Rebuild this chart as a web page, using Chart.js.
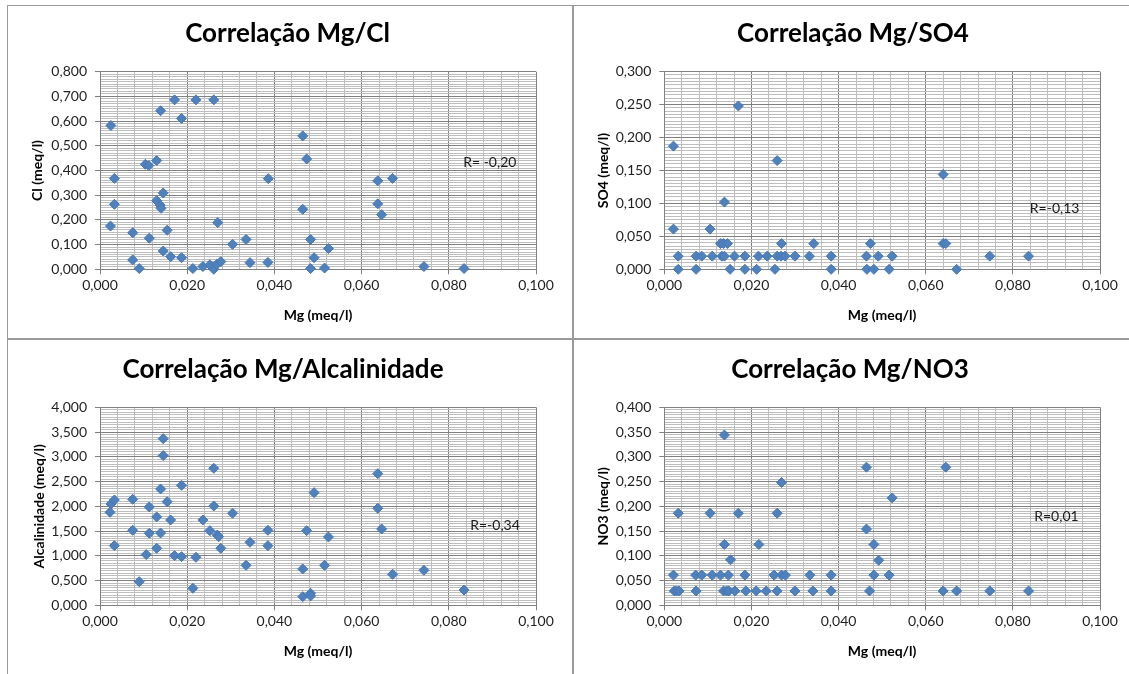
<!DOCTYPE html>
<html>
<head>
<meta charset="utf-8">
<title>Correlações Mg</title>
<script src="https://cdn.jsdelivr.net/npm/chart.js@4.4.1/dist/chart.umd.min.js"></script>
<style>
  html, body { margin: 0; padding: 0; background: #fff; }
  #sheet { position: relative; width: 1129px; height: 674px; overflow: hidden; background: #fff; }
  #sheet canvas { position: absolute; display: block; }
  .rule { position: absolute; background: #9a9a9a; }
</style>
</head>
<body>
<div id="sheet">
  <canvas id="cCl" width="565" height="334" style="left:8px;top:5px"></canvas>
  <canvas id="cSo4" width="555" height="334" style="left:574px;top:5px"></canvas>
  <canvas id="cAlk" width="565" height="334" style="left:8px;top:340px"></canvas>
  <canvas id="cNo3" width="555" height="334" style="left:574px;top:340px"></canvas>
  <div class="rule" style="left:8px;top:5px;width:1121px;height:1px"></div>
  <div class="rule" style="left:7px;top:5px;width:1px;height:669px"></div>
  <div class="rule" style="left:572px;top:5px;width:2px;height:669px"></div>
  <div class="rule" style="left:8px;top:338px;width:1121px;height:2px"></div>
</div>
<script>
// Magnésio (x) e concentrações (y) por amostra, em meq/l
const mgCl = [0.0024,0.0025,0.0033,0.0033,0.0075,0.0075,0.0090,0.0104,0.0112,0.0113,
              0.0130,0.0130,0.0138,0.0139,0.0140,0.0145,0.0145,0.0154,0.0162,0.0171,
              0.0187,0.0187,0.0213,0.0220,0.0236,0.0252,0.0261,0.0261,0.0268,0.0270,
              0.0277,0.0304,0.0335,0.0344,0.0385,0.0386,0.0465,0.0465,0.0474,0.0483,
              0.0483,0.0491,0.0515,0.0524,0.0637,0.0637,0.0646,0.0671,0.0743,0.0835];
const cl   = [0.175,0.582,0.368,0.263,0.148,0.038,0.003,0.425,0.420,0.126,
              0.440,0.278,0.260,0.642,0.247,0.309,0.074,0.158,0.051,0.686,
              0.611,0.047,0.003,0.686,0.011,0.018,0.686,0.000,0.020,0.189,
              0.031,0.101,0.121,0.027,0.028,0.367,0.540,0.243,0.447,0.121,
              0.003,0.047,0.005,0.084,0.358,0.265,0.221,0.368,0.011,0.003];

const mgSo4 = [0.0021,0.0021,0.0032,0.0032,0.0073,0.0073,0.0086,0.0105,0.0110,0.0129,
               0.0132,0.0136,0.0138,0.0138,0.0145,0.0151,0.0161,0.0170,0.0185,0.0185,
               0.0212,0.0216,0.0236,0.0254,0.0259,0.0259,0.0268,0.0269,0.0277,0.0300,
               0.0333,0.0343,0.0383,0.0383,0.0464,0.0465,0.0473,0.0481,0.0491,0.0516,
               0.0523,0.0640,0.0640,0.0646,0.0671,0.0747,0.0836];
const so4   = [0.187,0.061,0.020,0.000,0.020,0.000,0.020,0.061,0.020,0.039,
               0.020,0.039,0.020,0.102,0.039,0.000,0.020,0.248,0.020,0.000,
               0.000,0.020,0.020,0.000,0.165,0.020,0.020,0.039,0.020,0.020,
               0.020,0.039,0.020,0.000,0.020,0.000,0.039,0.000,0.020,0.000,
               0.020,0.144,0.039,0.039,0.000,0.020,0.020];

const mgAlk = [0.0023,0.0025,0.0033,0.0033,0.0075,0.0075,0.0090,0.0106,0.0113,0.0113,
               0.0130,0.0130,0.0139,0.0139,0.0145,0.0145,0.0154,0.0162,0.0171,0.0187,
               0.0187,0.0213,0.0220,0.0236,0.0252,0.0261,0.0261,0.0269,0.0272,0.0277,
               0.0304,0.0335,0.0344,0.0385,0.0385,0.0465,0.0465,0.0474,0.0483,0.0483,
               0.0491,0.0515,0.0524,0.0637,0.0637,0.0646,0.0671,0.0743,0.0835];
const alk   = [1.879,2.047,2.128,1.205,2.141,1.515,0.478,1.024,1.987,1.455,
               1.785,1.152,2.350,1.461,3.367,3.024,2.094,1.724,1.003,0.983,
               2.424,0.343,0.970,1.724,1.508,2.768,2.007,1.420,1.387,1.152,
               1.859,0.808,1.273,1.515,1.205,0.734,0.175,1.508,0.242,0.189,
               2.276,0.808,1.380,2.660,1.960,1.542,0.626,0.707,0.310];

const mgNo3 = [0.0021,0.0023,0.0028,0.0034,0.0032,0.0072,0.0073,0.0086,0.0105,0.0110,
               0.0129,0.0138,0.0138,0.0136,0.0143,0.0148,0.0147,0.0152,0.0162,0.0170,
               0.0185,0.0187,0.0211,0.0217,0.0234,0.0252,0.0259,0.0259,0.0269,0.0269,
               0.0278,0.0300,0.0334,0.0341,0.0383,0.0383,0.0464,0.0464,0.0471,0.0481,
               0.0492,0.0481,0.0516,0.0523,0.0640,0.0646,0.0671,0.0747,0.0836];
const no3   = [0.061,0.029,0.029,0.029,0.186,0.061,0.029,0.061,0.186,0.061,
               0.061,0.344,0.123,0.029,0.029,0.029,0.061,0.092,0.029,0.186,
               0.061,0.029,0.029,0.123,0.029,0.061,0.186,0.029,0.248,0.061,
               0.061,0.029,0.061,0.029,0.061,0.029,0.279,0.154,0.029,0.123,
               0.091,0.061,0.061,0.217,0.029,0.279,0.029,0.029,0.029];

// Eixos: Mg comum a todos os gráficos; y por parâmetro
const xMax = 0.1, xMinorStep = 0.004, xMajorStep = 0.02;
const yMax   = { cl: 0.8,  so4: 0.3,   alk: 4.0,  no3: 0.4 };
const yMinor = { cl: 0.01, so4: 0.005, alk: 0.05, no3: 0.005 };
const yMajor = { cl: 0.1,  so4: 0.05,  alk: 0.5,  no3: 0.05 };

const chartTitles = { cl: 'Correlação Mg/Cl', so4: 'Correlação Mg/SO4', alk: 'Correlação Mg/Alcalinidade', no3: 'Correlação Mg/NO3' };
const yTitles     = { cl: 'Cl (meq/l)', so4: 'SO4 (meq/l)', alk: 'Alcalinidade (meq/l)', no3: 'NO3 (meq/l)' };
const xTitle      = 'Mg (meq/l)';
const rLabels     = { cl: 'R= -0,20', so4: 'R=-0,13', alk: 'R=-0,34', no3: 'R=0,01' };
const rPositions  = { cl: [0.0833, 0.432], so4: [0.0839, 0.0916], alk: [0.0849, 1.622], no3: [0.0849, 0.180] };

const MAJOR = '#808080';
const MINOR = '#bdbdbd';
const MARKER = '#4F81BD';

Chart.defaults.font.family = 'Lato, "DejaVu Sans", sans-serif';
Chart.defaults.color = '#1f1f1f';

const fmt = v => v.toFixed(3).replace('.', ',');
const onStep = (v, step) => Math.abs(v / step - Math.round(v / step)) < 1e-6;

// Título do gráfico e rótulo do coeficiente de correlação
const annotate = {
  id: 'annotate',
  afterDatasetsDraw(chart, args, o) {
    const { ctx, scales: { x, y } } = chart;
    ctx.save();
    ctx.fillStyle = '#000';
    ctx.font = 'bold 26px Lato';
    ctx.textAlign = 'center';
    ctx.textBaseline = 'middle';
    ctx.fillText(o.title, o.titleX, o.titleY);
    ctx.font = '14px Lato';
    ctx.fillStyle = '#1a1a1a';
    ctx.textAlign = 'left';
    ctx.fillText(o.r, x.getPixelForValue(o.rAt[0]), y.getPixelForValue(o.rAt[1]));
    ctx.restore();
  }
};

function scatter(canvasId, key, xs, ys, box) {
  const yMaj = yMajor[key];
  return new Chart(document.getElementById(canvasId), {
    type: 'scatter',
    data: {
      datasets: [{
        data: xs.map((m, i) => ({ x: m, y: ys[i] })),
        pointStyle: 'rectRot',
        pointRadius: 5,
        pointHoverRadius: 5,
        backgroundColor: MARKER,
        borderColor: '#4677b3',
        borderWidth: 1,
        clip: false
      }]
    },
    options: {
      responsive: false,
      animation: false,
      devicePixelRatio: 1,
      events: [],
      layout: { padding: box.pad },
      plugins: {
        legend: { display: false },
        tooltip: { enabled: false },
        annotate: {
          title: chartTitles[key], titleX: box.titleX, titleY: box.titleY,
          r: rLabels[key], rAt: rPositions[key]
        }
      },
      scales: {
        x: {
          type: 'linear', min: 0, max: xMax,
          afterFit: s => { s.height = box.xH; },
          ticks: {
            stepSize: xMinorStep, autoSkip: false, maxRotation: 0, minRotation: 0,
            padding: 3, font: { size: 14 },
            callback: v => onStep(v, xMajorStep) ? fmt(v) : ''
          },
          grid: {
            lineWidth: 1, tickLength: 5,
            color: c => (c.tick && onStep(c.tick.value, xMajorStep)) ? MAJOR : MINOR,
            tickColor: c => (c.tick && onStep(c.tick.value, xMajorStep)) ? MAJOR : 'rgba(0,0,0,0)'
          },
          border: { color: MAJOR },
          title: { display: true, text: xTitle, color: '#000', font: { size: 14, weight: 'bold' }, padding: 0 }
        },
        y: {
          type: 'linear', min: 0, max: yMax[key],
          afterFit: s => { s.width = box.yW; },
          ticks: {
            stepSize: yMinor[key], autoSkip: false, padding: 8, font: { size: 14 },
            callback: v => onStep(v, yMaj) ? fmt(v) : ''
          },
          grid: {
            lineWidth: 1, tickLength: 5,
            color: c => (c.tick && onStep(c.tick.value, yMaj)) ? MAJOR : MINOR,
            tickColor: c => (c.tick && onStep(c.tick.value, yMaj)) ? MAJOR : 'rgba(0,0,0,0)'
          },
          border: { color: MAJOR },
          title: { display: true, text: yTitles[key], color: '#000', font: { size: 14, weight: 'bold' }, padding: 0 }
        }
      }
    },
    plugins: [annotate]
  });
}

scatter('cCl', 'cl', mgCl, cl, {
  pad: { left: 20.6, right: 37, top: 66.7, bottom: 15.6 }, yW: 71.4, xH: 54.1, titleX: 279.5, titleY: 28.5 });
scatter('cSo4', 'so4', mgSo4, so4, {
  pad: { left: 20.6, right: 29, top: 66.7, bottom: 15.6 }, yW: 69.7, xH: 54.1, titleX: 279, titleY: 28.5 });
scatter('cAlk', 'alk', mgAlk, alk, {
  pad: { left: 22.6, right: 37, top: 67.3, bottom: 14.6 }, yW: 69.4, xH: 54.1, titleX: 275, titleY: 30 });
scatter('cNo3', 'no3', mgNo3, no3, {
  pad: { left: 20.6, right: 29, top: 67.3, bottom: 14.6 }, yW: 69.7, xH: 54.1, titleX: 276, titleY: 30 });
</script>
</body>
</html>
